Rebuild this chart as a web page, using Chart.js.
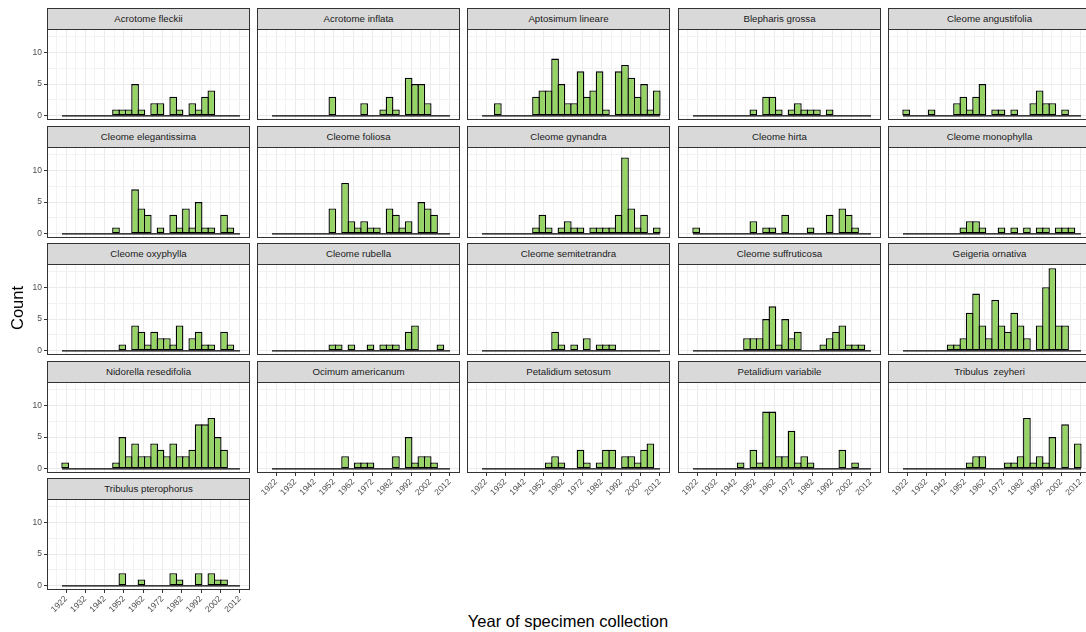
<!DOCTYPE html>
<html>
<head>
<meta charset="utf-8">
<script src="https://cdn.jsdelivr.net/npm/chart.js@4.4.1/dist/chart.umd.min.js"></script>
<style>
  body { margin: 0; background: #fff; width: 1086px; height: 632px; overflow: hidden; position: relative;
         font-family: "Liberation Sans", Arial, sans-serif; }
  canvas { position: absolute; }
  .strip { position: absolute; box-sizing: border-box; background: #d9d9d9; border: 1px solid #333;
           color: #1a1a1a; font-size: 9.7px; text-align: center; line-height: 20px; white-space: pre; }
  .title { position: absolute; color: #000; font-size: 16.5px; text-align: center; white-space: nowrap; }
</style>
</head>
<body>
<script>
// histogram bins (year of collection), 28 bins
const binStart = 1919.9;
const binWidth = 3.296;
const yearTicks = [1922, 1932, 1942, 1952, 1962, 1972, 1982, 1992, 2002, 2012];
const countTicks = [0, 5, 10];

const species = [
  'Acrotome fleckii', 'Acrotome inflata', 'Aptosimum lineare', 'Blepharis grossa', 'Cleome angustifolia',
  'Cleome elegantissima', 'Cleome foliosa', 'Cleome gynandra', 'Cleome hirta', 'Cleome monophylla',
  'Cleome oxyphylla', 'Cleome rubella', 'Cleome semitetrandra', 'Cleome suffruticosa', 'Geigeria ornativa',
  'Nidorella resedifolia', 'Ocimum americanum', 'Petalidium setosum', 'Petalidium variabile', 'Tribulus  zeyheri',
  'Tribulus pterophorus'
];

const acrotomeFleckii      = [0,0,0,0,0,0,0,0,1,1,1,5,1,0,2,2,0,3,1,0,2,1,3,4,0,0,0,0];
const acrotomeInflata      = [0,0,0,0,0,0,0,0,0,3,0,0,0,0,2,0,0,1,3,1,0,6,5,5,2,0,0,0];
const aptosimumLineare     = [0,0,2,0,0,0,0,0,3,4,4,9,5,2,2,7,3,4,7,1,0,7,8,6,3,5,1,4];
const blepharisGrossa      = [0,0,0,0,0,0,0,0,0,1,0,3,3,1,0,1,2,1,1,1,0,1,0,0,0,0,0,0];
const cleomeAngustifolia   = [1,0,0,0,1,0,0,0,2,3,1,3,5,0,1,1,0,1,0,0,2,4,2,2,0,1,0,0];
const cleomeElegantissima  = [0,0,0,0,0,0,0,0,1,0,0,7,4,3,0,1,0,3,1,4,1,5,1,1,0,3,1,0];
const cleomeFoliosa        = [0,0,0,0,0,0,0,0,0,4,0,8,2,1,2,1,1,0,4,3,1,2,0,5,4,3,0,0];
const cleomeGynandra       = [0,0,0,0,0,0,0,0,1,3,1,0,1,2,1,1,0,1,1,1,1,3,12,4,1,3,0,1];
const cleomeHirta          = [1,0,0,0,0,0,0,0,0,2,0,1,1,0,3,0,0,0,1,0,0,3,0,4,3,1,0,0];
const cleomeMonophylla     = [0,0,0,0,0,0,0,0,0,1,2,2,1,0,0,1,0,1,0,1,0,1,1,0,1,1,1,0];
const cleomeOxyphylla      = [0,0,0,0,0,0,0,0,0,1,0,4,3,1,3,2,2,1,4,0,2,3,1,1,0,3,1,0];
const cleomeRubella        = [0,0,0,0,0,0,0,0,0,1,1,0,1,0,0,1,0,1,1,1,0,3,4,0,0,0,1,0];
const cleomeSemitetrandra  = [0,0,0,0,0,0,0,0,0,0,0,3,1,0,1,0,2,0,1,1,1,0,0,0,0,0,0,0];
const cleomeSuffruticosa   = [0,0,0,0,0,0,0,0,2,2,2,5,7,1,5,2,3,0,0,0,1,2,3,4,1,1,1,0];
const geigeriaOrnativa     = [0,0,0,0,0,0,0,1,1,2,6,9,4,2,8,4,3,6,4,2,0,4,10,13,4,4,0,0];
const nidorellaResedifolia = [1,0,0,0,0,0,0,0,1,5,2,4,2,2,4,3,2,4,2,2,3,7,7,8,5,3,0,0];
const ocimumAmericanum     = [0,0,0,0,0,0,0,0,0,0,0,2,0,1,1,1,0,0,0,2,0,5,1,2,2,1,0,0];
const petalidiumSetosum    = [0,0,0,0,0,0,0,0,0,0,1,2,1,0,0,3,1,0,1,3,3,0,2,2,1,3,4,0];
const petalidiumVariabile  = [0,0,0,0,0,0,0,1,0,3,1,9,9,2,2,6,1,2,1,0,0,0,0,3,0,1,0,0];
const tribulusZeyheri      = [0,0,0,0,0,0,0,0,0,0,1,2,2,0,0,0,1,1,2,8,1,2,1,5,0,7,0,4];
const tribulusPterophorus  = [0,0,0,0,0,0,0,0,0,2,0,0,1,0,0,0,0,2,1,0,0,2,0,2,1,1,0,0];

const speciesCounts = [
  acrotomeFleckii, acrotomeInflata, aptosimumLineare, blepharisGrossa, cleomeAngustifolia,
  cleomeElegantissima, cleomeFoliosa, cleomeGynandra, cleomeHirta, cleomeMonophylla,
  cleomeOxyphylla, cleomeRubella, cleomeSemitetrandra, cleomeSuffruticosa, geigeriaOrnativa,
  nidorellaResedifolia, ocimumAmericanum, petalidiumSetosum, petalidiumVariabile, tribulusZeyheri,
  tribulusPterophorus
];

// facet layout
const colLeft = [47, 257, 467, 678, 888];
const rowTop = [8, 126, 243, 361, 478];
const stripH = 21, plotW = 203, plotH = 91;

// grid positions: major at the tick labels, minor half way
const xGrid = [];
for (let v = yearTicks[0] - 5; v <= yearTicks[yearTicks.length - 1] + 5; v += 5) xGrid.push(v);
const yGrid = [0, 2.5, 5, 7.5, 10, 12.5];

Chart.defaults.font.family = '"Liberation Sans", Arial, sans-serif';

const panelBorder = {
  id: 'panelBorder',
  afterDraw(chart) {
    const { ctx, chartArea: a } = chart;
    ctx.save();
    ctx.strokeStyle = '#333';
    ctx.lineWidth = 1;
    ctx.strokeRect(a.left + 0.5, a.top + 0.5, a.right - a.left - 1, a.bottom - a.top - 1);
    ctx.restore();
  },
};

species.forEach((name, i) => {
  const r = Math.floor(i / 5), c = i % 5;
  const showX = (r === 3 && c > 0) || r === 4;
  const showY = c === 0;
  const plotLeft = colLeft[c];
  const plotTop = rowTop[r] + stripH;
  const axisH = showX ? 30 : 0;

  const strip = document.createElement('div');
  strip.className = 'strip';
  strip.style.left = plotLeft + 'px';
  strip.style.top = rowTop[r] + 'px';
  strip.style.width = plotW + 'px';
  strip.style.height = (stripH + 1) + 'px';
  strip.textContent = name;
  document.body.appendChild(strip);

  const canvasLeft = showY ? 0 : plotLeft - 2;
  const canvasTop = plotTop - 2;
  const cv = document.createElement('canvas');
  cv.width = plotLeft + plotW + 2 - canvasLeft;
  cv.height = plotH + 4 + axisH;
  cv.style.left = canvasLeft + 'px';
  cv.style.top = canvasTop + 'px';
  document.body.appendChild(cv);

  const counts = speciesCounts[i];
  const isMajorX = v => yearTicks.includes(v);
  const isMajorY = v => countTicks.includes(v);

  new Chart(cv, {
    type: 'bar',
    data: {
      datasets: [
        {
          type: 'line',
          data: [{ x: binStart, y: 0 }, { x: binStart + counts.length * binWidth, y: 0 }],
          borderColor: '#000',
          borderWidth: 1.2,
          pointRadius: 0,
          order: 2,
        },
        {
          type: 'bar',
          data: counts.map((v, k) => ({ x: binStart + (k + 0.5) * binWidth, y: v })),
          backgroundColor: '#97d466',
          borderColor: '#000',
          borderWidth: 1.35,
          borderSkipped: false,
          barPercentage: 1.21,
          categoryPercentage: 1,
          order: 1,
        },
      ],
    },
    options: {
      responsive: false,
      animation: false,
      devicePixelRatio: 1,
      layout: { padding: { left: showY ? 0 : 2, top: 2, right: 2, bottom: 2 } },
      plugins: { legend: { display: false }, tooltip: { enabled: false } },
      scales: {
        x: {
          type: 'linear',
          min: 1912.14,
          max: 2017.4,
          offset: false,
          afterBuildTicks: s => { s.ticks = xGrid.map(v => ({ value: v })); },
          afterFit: s => { s.height = axisH; s.paddingLeft = 0; s.paddingRight = 0; },
          border: { display: false },
          grid: {
            offset: false,
            color: ctx => (ctx.tick && isMajorX(ctx.tick.value) ? '#ebebeb' : '#f2f2f2'),
            lineWidth: 1,
            drawTicks: showX,
            tickLength: 3,
            tickWidth: 1,
            tickColor: ctx => (ctx.tick && isMajorX(ctx.tick.value) ? '#333' : 'rgba(0,0,0,0)'),
          },
          ticks: {
            display: showX,
            autoSkip: false,
            minRotation: 45,
            maxRotation: 45,
            padding: 1,
            color: '#4d4d4d',
            font: { size: 8.5 },
            callback: v => (isMajorX(v) ? String(v) : ''),
          },
        },
        y: {
          min: -0.65,
          max: 13.65,
          afterBuildTicks: s => { s.ticks = yGrid.map(v => ({ value: v })); },
          afterFit: s => { s.width = showY ? plotLeft : 0; s.paddingTop = 0; s.paddingBottom = 0; },
          border: { display: false },
          grid: {
            color: ctx => (ctx.tick && isMajorY(ctx.tick.value) ? '#ebebeb' : '#f2f2f2'),
            lineWidth: 1,
            drawTicks: showY,
            tickLength: 3,
            tickWidth: 1,
            tickColor: ctx => (ctx.tick && isMajorY(ctx.tick.value) ? '#333' : 'rgba(0,0,0,0)'),
          },
          ticks: {
            display: showY,
            padding: 2,
            color: '#4d4d4d',
            font: { size: 8.5 },
            callback: v => (isMajorY(v) ? String(v) : ''),
          },
        },
      },
    },
    plugins: [panelBorder],
  });
});

// axis titles
const yTitle = document.createElement('div');
yTitle.className = 'title';
yTitle.textContent = 'Count';
yTitle.style.width = '80px';
yTitle.style.left = (17 - 40) + 'px';
yTitle.style.top = (308 - 10) + 'px';
yTitle.style.lineHeight = '20px';
yTitle.style.transform = 'rotate(-90deg)';
document.body.appendChild(yTitle);

const xTitle = document.createElement('div');
xTitle.className = 'title';
xTitle.textContent = 'Year of specimen collection';
xTitle.style.width = '300px';
xTitle.style.left = (568 - 150) + 'px';
xTitle.style.top = (621 - 10) + 'px';
xTitle.style.lineHeight = '20px';
document.body.appendChild(xTitle);
</script>
</body>
</html>
